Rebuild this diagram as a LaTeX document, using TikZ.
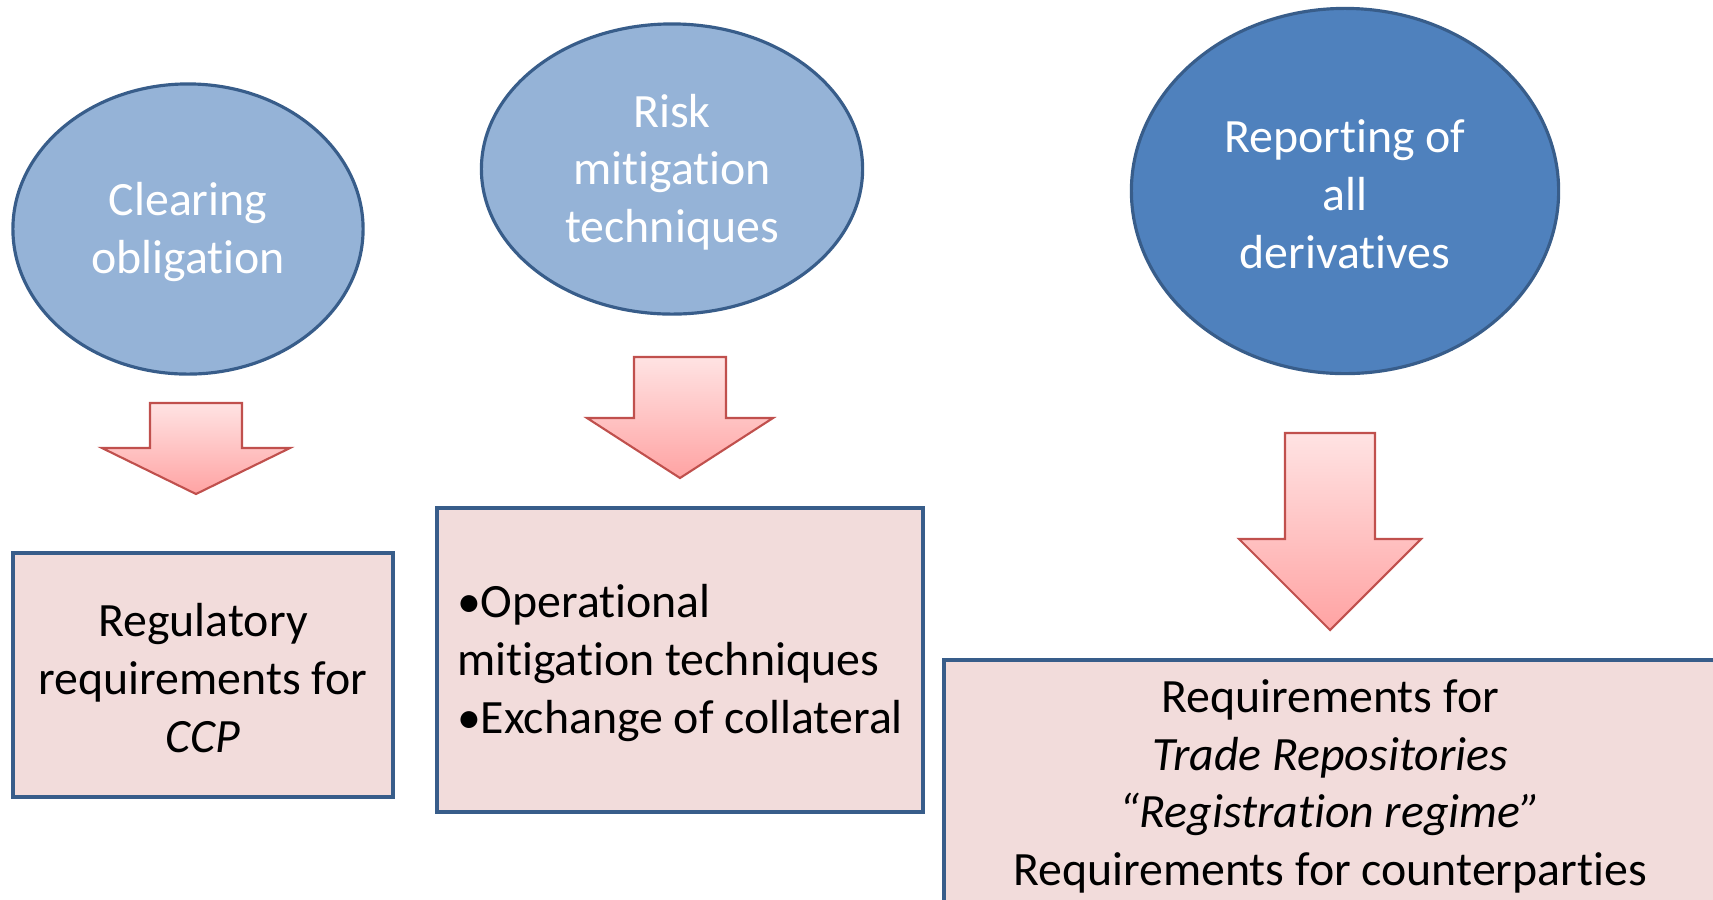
\documentclass[tikz,border=0pt]{standalone}
\usepackage{fontspec}
\setmainfont{Carlito}[Ligatures={NoCommon,NoRequired,NoContextual},RawFeature={-liga;-clig;-dlig;-calt;-rlig}]
\usepackage{xcolor}
\usepackage{tikz}
\usetikzlibrary{shapes}
\usetikzlibrary{positioning}
\usetikzlibrary{shapes.geometric}

\definecolor{ovalline}{HTML}{385D8A}
\definecolor{ovallight}{HTML}{95B3D7}
\definecolor{ovaldark}{HTML}{4F81BD}
\definecolor{boxfill}{HTML}{F2DCDB}
\definecolor{arrowline}{HTML}{C0504D}
\definecolor{arrowtop}{HTML}{FFE3E3}
\definecolor{arrowbottom}{HTML}{FFA3A3}

\newcommand{\lift}{\rule{0pt}{11.2pt}}

\begin{document}
\begin{tikzpicture}[
	x=0.01cm, y=-0.01cm,
	font=\fontsize{13.6}{16.4}\selectfont
]
\tikzset{
    myoval/.style = {ellipse, draw=ovalline, line width=0.9pt, text=white, align=center, inner sep=0pt},
    mybox/.style = {rectangle, draw=ovalline, line width=1.3pt, fill=boxfill, align=center, inner sep=0pt},
    myarrow/.style = {draw=arrowline, line width=0.6pt, top color=arrowtop, bottom color=arrowbottom}
}
\useasboundingbox (0,0) rectangle (1713,899);
\clip (0,0) rectangle (1713,899);
\node[myoval,fill=ovallight,minimum width=3.50cm,minimum height=2.90cm] (clearing) at (188,229) {\lift Clearing\\obligation};
\node[myoval,fill=ovallight,minimum width=3.81cm,minimum height=2.90cm] (risk) at (672,169) {\lift Risk\\mitigation\\techniques};
\node[myoval,fill=ovaldark,minimum width=4.27cm,minimum height=3.65cm] (reporting) at (1345,191) {\lift Reporting of\\all\\derivatives};
\draw[myarrow] (150,403) -- (242,403) -- (242,448) -- (290,448) -- (196,494) -- (102,448) -- (150,448) -- cycle;
\draw[myarrow] (634,357) -- (726,357) -- (726,418) -- (773,418) -- (680,478) -- (587,418) -- (634,418) -- cycle;
\draw[myarrow] (1285,433) -- (1375,433) -- (1375,539) -- (1421,539) -- (1330,630) -- (1239,539) -- (1285,539) -- cycle;
\node[mybox,minimum width=3.80cm,minimum height=2.44cm] (ccp) at (203,675) {\lift Regulatory\\requirements for\\\textit{CCP}};
\node[mybox,minimum width=4.86cm,minimum height=3.04cm,align=left] (collateral) at (680,660) {\lift\textbullet Operational\\mitigation techniques\\\textbullet Exchange of collateral};
\node[mybox,minimum width=7.72cm,minimum height=2.46cm] (repositories) at (1330,783) {\lift Requirements for\\\textit{Trade Repositories}\\\textit{“Registration regime”}\\Requirements for counterparties};
\end{tikzpicture}
\end{document}
